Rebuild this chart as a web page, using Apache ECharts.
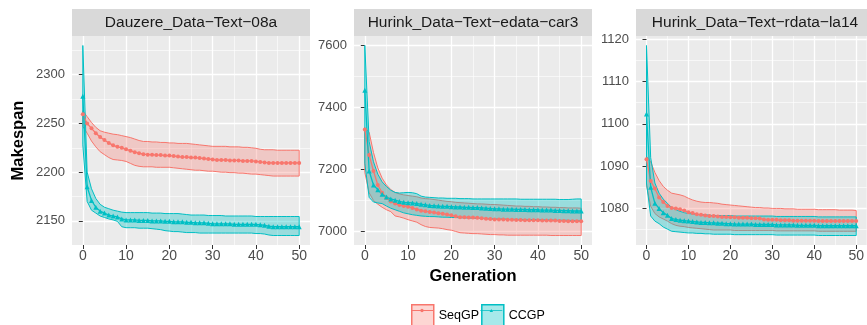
<!DOCTYPE html>
<html>
<head>
<meta charset="utf-8">
<script src="https://cdn.jsdelivr.net/npm/echarts@6/dist/echarts.min.js"></script>
<style>
html,body{margin:0;padding:0;background:#fff;}
#main{width:867px;height:325px;}
</style>
</head>
<body>
<div id="main"></div>
<script>
// ---- data ----
var generations = [0,1,2,3,4,5,6,7,8,9,10,11,12,13,14,15,16,17,18,19,20,21,22,23,24,25,
  26,27,28,29,30,31,32,33,34,35,36,37,38,39,40,41,42,43,44,45,46,47,48,49,50];
var panelNames = ['Dauzere_Data\u2212Text\u221208a', 'Hurink_Data\u2212Text\u2212edata\u2212car3', 'Hurink_Data\u2212Text\u2212rdata\u2212la14'];
var xTicks = [0,10,20,30,40,50];
var p1Ticks = [2150,2200,2250,2300];
var p2Ticks = [7000,7200,7400,7600];
var p3Ticks = [1080,1090,1100,1110,1120];

// Dauzere 08a
var p1SeqMean = [2259.5,2250,2245,2240,2236,2233,2230,2227.5,2226,2225,
  2223.5,2222,2220.5,2219.5,2218.5,2218,2218,2217.5,2217.5,2217,
  2217,2216.5,2216,2215.5,2215.5,2215,2215,2214.5,2214,2213.5,
  2213,2212.5,2212.5,2212.5,2212,2212,2212,2211.5,2211.5,2211.5,
  2211,2210.5,2210,2209.5,2209.5,2209.5,2209.5,2209.5,2209.5,2209.5,2209.5];
var p1SeqHi = [2263,2257,2251,2246,2242.5,2241,2240,2239,2238.5,2237.5,
  2236.5,2235.5,2234,2232.5,2231.5,2231.5,2231,2231,2230.5,2230.5,
  2230,2230,2229.5,2229.5,2229.5,2229,2228.5,2228,2227.5,2227,
  2226.5,2226.5,2226.5,2226.5,2226,2226,2226,2225.5,2225.5,2225,
  2224.5,2223.5,2223,2223,2223,2222.5,2222.5,2222.5,2222.5,2222.5,2222.5];
var p1SeqLo = [2247,2240,2232,2226,2221,2218,2215,2213,2212.5,2212,
  2211,2209,2207,2206,2205.5,2205.5,2205.5,2205,2205,2205,
  2205,2204.5,2204,2203.5,2203,2202.5,2202,2202,2201.5,2201,
  2201,2200.5,2200,2200,2199.5,2199.5,2199,2199,2198.5,2198,
  2198,2197.5,2197,2196.5,2196,2196,2196,2196,2196,2196,2196];
var p1CcMean = [2278,2185,2171,2164,2160,2158,2156,2155,2154,2152,
  2151,2151,2151,2150.5,2150.5,2150.5,2150,2150,2150,2149.5,
  2149.5,2149,2149,2149,2148.5,2148.5,2148,2148,2148,2147.5,
  2147,2147,2147,2147,2147,2146.5,2146.5,2146.5,2146.5,2146.5,
  2146.5,2146,2145.5,2144.5,2144,2144,2144,2144,2144,2144,2144];
var p1CcHi = [2330,2200,2183,2173,2167,2164,2162.5,2161,2160,2159,
  2158.5,2158.5,2158.5,2158.5,2158.5,2158.5,2158,2158,2158,2157.5,
  2157.5,2157.5,2157.5,2157,2156.5,2156,2156,2156,2156,2155.5,
  2155.5,2155.5,2155.5,2155,2155,2155,2155,2155,2155,2155,
  2154.5,2154.5,2154.5,2154.5,2154.5,2154.5,2154.5,2154.5,2154.5,2154.5,2154.5];
var p1CcLo = [2228,2170,2161,2158,2155,2153.5,2152,2151,2149.5,2144,
  2143,2143,2143,2142.5,2142.5,2142.5,2142,2141.5,2141,2140,
  2139.5,2139,2139,2138.5,2138,2138,2138,2137.5,2137.5,2137.5,
  2137.5,2137.5,2137.5,2137.5,2137.5,2137.5,2137.5,2137.5,2137.5,2137.5,
  2137,2137,2136.5,2135.5,2135,2135,2135,2135,2135,2135,2135];

// Hurink edata car3
var p2SeqMean = [7329,7247,7195,7150,7125,7108,7097,7090,7085,7082,
  7080,7076,7071,7067,7065,7063,7061,7059,7057,7055,
  7052,7049,7046,7046,7045,7045,7044,7043,7041,7040,
  7039,7039,7039,7038,7038,7037,7037,7036,7036,7036,
  7036,7035,7035,7035,7035,7034,7034,7033,7033,7033,7033];
var p2SeqHi = [7335,7320,7255,7205,7172,7150,7135,7126,7121,7118,
  7116,7114,7112,7108,7106,7105,7103,7101,7099,7097,
  7096,7094,7093,7092,7091,7090,7089,7089,7088,7087,
  7087,7086,7085,7084,7083,7082,7082,7081,7081,7080,
  7080,7079,7079,7078,7078,7077,7077,7076,7076,7076,7075];
var p2SeqLo = [7190,7125,7100,7088,7078,7070,7064,7050,7047,7043,
  7038,7034,7030,7022,7016,7013,7012,7011,7009,7006,
  7004,7000,6996,6995,6994,6993,6993,6992,6991,6990,
  6990,6989,6989,6988,6988,6988,6988,6988,6988,6988,
  6988,6988,6988,6987,6987,6987,6987,6987,6987,6987,6987];
var p2CcMean = [7456,7195,7150,7135,7120,7111,7105,7101,7097,7094,
  7093,7092,7090,7088,7086,7084,7083,7082,7081,7081,
  7080,7079,7079,7078,7078,7077,7077,7076,7075,7074,
  7073,7073,7072,7072,7072,7071,7071,7071,7070,7070,
  7070,7069,7069,7069,7068,7068,7067,7067,7066,7066,7066];
var p2CcHi = [7600,7290,7225,7185,7160,7145,7133,7126,7124,7125,
  7126,7125,7122,7114,7111,7110,7109,7108,7108,7107,
  7107,7107,7106,7106,7106,7105,7105,7105,7105,7105,
  7105,7105,7105,7105,7105,7105,7104,7104,7104,7104,
  7104,7104,7104,7104,7104,7103,7103,7103,7104,7105,7105];
var p2CcLo = [7220,7110,7095,7092,7090,7082,7075,7070,7065,7060,
  7057,7054,7052,7050,7049,7048,7048,7047,7046,7046,
  7045,7045,7044,7044,7043,7043,7042,7042,7041,7041,
  7040,7040,7040,7039,7039,7039,7039,7038,7038,7038,
  7038,7037,7037,7037,7036,7036,7036,7036,7035,7035,7035];

// Hurink rdata la14
var p3SeqMean = [1091.6,1086.5,1084.7,1082.6,1081.5,1080.6,1080.1,1080,1079.8,1079.5,
  1079.1,1078.9,1078.6,1078.5,1078.3,1078.2,1078.2,1078.1,1078,1078,
  1077.9,1077.9,1077.8,1077.8,1077.8,1077.7,1077.7,1077.6,1077.4,1077.3,
  1077.3,1077.3,1077.2,1077.2,1077.2,1077.1,1077.1,1077.1,1077.1,1077.1,
  1077.1,1077,1077,1077,1077,1077,1077,1077,1077,1077,1077];
var p3SeqHi = [1092.3,1091,1088.5,1086.6,1085.2,1084.3,1083.6,1083.4,1083.2,1082.9,
  1082.4,1082,1081.7,1081.5,1081.4,1081.4,1081.3,1081.2,1081,1080.9,
  1080.8,1080.7,1080.6,1080.5,1080.4,1080.3,1080.2,1080.2,1080.1,1080.1,
  1080,1080,1080,1079.9,1079.9,1079.9,1079.8,1079.8,1079.8,1079.8,
  1079.8,1079.7,1079.7,1079.7,1079.7,1079.7,1079.6,1079.6,1079.6,1079.6,1079.5];
var p3SeqLo = [1085.5,1080.5,1078.8,1078,1077.5,1077,1076.4,1076,1075.8,1075.7,
  1075.5,1075.4,1075.3,1075.2,1075.1,1075,1074.9,1074.9,1074.9,1074.9,
  1074.9,1074.8,1074.8,1074.8,1074.8,1074.8,1074.8,1074.8,1074.8,1074.8,
  1074.8,1074.7,1074.7,1074.7,1074.7,1074.7,1074.7,1074.7,1074.7,1074.7,
  1074.7,1074.6,1074.6,1074.6,1074.6,1074.6,1074.6,1074.6,1074.6,1074.6,1074.6];
var p3CcMean = [1102.3,1085,1081.2,1080,1079,1078.4,1077.6,1077.4,1077.2,1077.1,
  1077,1076.9,1076.8,1076.7,1076.7,1076.6,1076.6,1076.5,1076.5,1076.4,
  1076.4,1076.3,1076.3,1076.3,1076.3,1076.3,1076.2,1076.2,1076.2,1076.2,
  1076.2,1076.1,1076.1,1076.1,1076.1,1076.1,1076,1076,1076,1076,
  1076,1075.9,1075.9,1075.9,1075.9,1075.9,1075.9,1075.9,1075.9,1075.9,1075.9];
var p3CcHi = [1118.5,1092,1086,1083.6,1082.2,1081.2,1080.2,1079.7,1079.3,1079,
  1078.8,1078.7,1078.6,1078.5,1078.5,1078.4,1078.3,1078.3,1078.3,1078.3,
  1078.3,1078.2,1078.2,1078.2,1078.2,1078.2,1078.2,1078.2,1078.2,1078.2,
  1078.2,1078.1,1078.1,1078.1,1078.1,1078.1,1078.1,1078.1,1078.1,1078.1,
  1078.1,1078,1078,1078,1078,1078,1078,1078,1078,1078,1078];
var p3CcLo = [1086,1078.2,1077,1076.4,1075.6,1075.1,1074.6,1074.5,1074.4,1074.3,
  1074.2,1074.2,1074.1,1074.1,1074,1074,1073.9,1073.9,1073.9,1073.9,
  1073.9,1073.8,1073.8,1073.8,1073.8,1073.8,1073.8,1073.8,1073.8,1073.8,
  1073.8,1073.7,1073.7,1073.7,1073.7,1073.7,1073.7,1073.7,1073.7,1073.7,
  1073.7,1073.6,1073.6,1073.6,1073.6,1073.6,1073.6,1073.6,1073.6,1073.6,1073.6];

// ---- layout / style ----
var SEQ = '#F8766D', CC = '#00BFC4';
var SEQ_FILL = 'rgba(248,118,109,0.3)', CC_FILL = 'rgba(0,191,196,0.35)';
var FONT = 'Liberation Sans, Arial, sans-serif';
var gridLeft = [72, 354, 636];
var gridTop = 36, gridW = 238, gridH = 209;

var panels = [
  {ticks: p1Ticks, seq: [p1SeqMean, p1SeqLo, p1SeqHi], cc: [p1CcMean, p1CcLo, p1CcHi]},
  {ticks: p2Ticks, seq: [p2SeqMean, p2SeqLo, p2SeqHi], cc: [p2CcMean, p2CcLo, p2CcHi]},
  {ticks: p3Ticks, seq: [p3SeqMean, p3SeqLo, p3SeqHi], cc: [p3CcMean, p3CcLo, p3CcHi]}
];

// ggplot-like 5% expansion
function expandRange(arrs) {
  var lo = Infinity, hi = -Infinity;
  arrs.forEach(function(a){ a.forEach(function(v){ if(v<lo)lo=v; if(v>hi)hi=v; }); });
  var pad = (hi - lo) * 0.05;
  return [lo - pad, hi + pad];
}
function minorOf(ticks, min, max) {
  var step = ticks[1] - ticks[0], out = [];
  for (var v = ticks[0] - step / 2; v <= max; v += step) if (v >= min) out.push(v);
  return out;
}
function plain(v) { return String(v); }

var xr = expandRange([generations]);
var grids = [], xAxes = [], yAxes = [], series = [], graphics = [];

panels.forEach(function(p, k) {
  grids.push({left: gridLeft[k], top: gridTop, width: gridW, height: gridH,
    show: true, backgroundColor: '#EBEBEB', borderWidth: 0});
  var yr = expandRange(p.seq.concat(p.cc));
  xAxes[k] = {
    type: 'value', gridIndex: k, min: xr[0], max: xr[1],
    axisLine: {show: false},
    axisTick: {show: true, length: 4, customValues: xTicks, lineStyle: {color: '#333', width: 1}},
    axisLabel: {customValues: xTicks, formatter: plain, color: '#4D4D4D', fontSize: 14, fontFamily: FONT, margin: 4},
    splitLine: {show: true, lineStyle: {color: '#fff', width: 1.3}}
  };
  if (k === 1) {
    xAxes[k].name = 'Generation';
    xAxes[k].nameLocation = 'middle';
    xAxes[k].nameGap = 22;
    xAxes[k].nameTextStyle = {fontSize: 16.5, fontWeight: 'bold', color: '#000', fontFamily: FONT};
  }
  xAxes[k + 3] = {
    type: 'value', gridIndex: k, min: xr[0], max: xr[1], position: 'top',
    axisLine: {show: false}, axisLabel: {show: false},
    axisTick: {show: false, customValues: [5,15,25,35,45]},
    splitLine: {show: true, lineStyle: {color: '#fff', width: 0.6}}
  };
  yAxes[k] = {
    type: 'value', gridIndex: k, min: yr[0], max: yr[1],
    axisLine: {show: false},
    axisTick: {show: true, length: 4, customValues: p.ticks, lineStyle: {color: '#333', width: 1}},
    axisLabel: {customValues: p.ticks, formatter: plain, color: '#4D4D4D', fontSize: 13, fontFamily: FONT, margin: 7},
    splitLine: {show: true, lineStyle: {color: '#fff', width: 1.3}}
  };
  if (k === 0) {
    yAxes[k].name = 'Makespan';
    yAxes[k].nameLocation = 'middle';
    yAxes[k].nameGap = 45;
    yAxes[k].nameTextStyle = {fontSize: 16.5, fontWeight: 'bold', color: '#000', fontFamily: FONT};
  }
  yAxes[k + 3] = {
    type: 'value', gridIndex: k, min: yr[0], max: yr[1], position: 'right',
    axisLine: {show: false}, axisLabel: {show: false},
    axisTick: {show: false, customValues: minorOf(p.ticks, yr[0], yr[1])},
    splitLine: {show: true, lineStyle: {color: '#fff', width: 0.6}}
  };

  // facet strip
  graphics.push({type: 'rect', left: gridLeft[k], top: 9, shape: {width: gridW, height: 27},
    style: {fill: '#D9D9D9'}, silent: true});
  graphics.push({type: 'text', x: gridLeft[k] + gridW / 2, y: 22.5,
    style: {text: panelNames[k], fill: '#1A1A1A', font: '15.5px ' + FONT, align: 'center', verticalAlign: 'middle'}, silent: true});
});

function lineSeries(name, k, vals, color, symbol, size) {
  return {
    name: name, type: 'line', xAxisIndex: k, yAxisIndex: k, z: 4,
    data: generations.map(function(g, i){ return [g, vals[i]]; }),
    symbol: symbol, symbolSize: size, showSymbol: true,
    lineStyle: {color: color, width: 1.3}, itemStyle: {color: color},
    animation: false, silent: true
  };
}
function ribbonSeries(name, k, lo, hi, color, fill) {
  return {
    name: name, type: 'custom', xAxisIndex: k, yAxisIndex: k, z: 2,
    data: generations.map(function(g, i){ return [g, lo[i], hi[i]]; }),
    encode: {x: 0, y: [1, 2]},
    renderItem: function(params, api) {
      if (params.dataIndex !== 0) return null;
      var pts = [], i;
      for (i = 0; i < generations.length; i++) pts.push(api.coord([generations[i], hi[i]]));
      for (i = generations.length - 1; i >= 0; i--) pts.push(api.coord([generations[i], lo[i]]));
      return {type: 'polygon', shape: {points: pts}, style: {fill: fill, stroke: color, lineWidth: 1}};
    },
    animation: false, silent: true
  };
}

panels.forEach(function(p, k) {
  series.push(ribbonSeries('SeqGP', k, p.seq[1], p.seq[2], SEQ, SEQ_FILL));
  series.push(ribbonSeries('CCGP', k, p.cc[1], p.cc[2], CC, CC_FILL));
});
panels.forEach(function(p, k) {
  series.push(lineSeries('SeqGP', k, p.seq[0], SEQ, 'circle', 4));
  series.push(lineSeries('CCGP', k, p.cc[0], CC, 'triangle', 5));
});

// legend key: line with a point in the middle
var keyLineCircle = 'path://M0,4.6 L20,4.6 L20,5.4 L0,5.4 Z M8.5,5 A1.5,1.5 0 1 1 11.5,5 A1.5,1.5 0 1 1 8.5,5 Z';
var keyLineTri = 'path://M0,4.6 L20,4.6 L20,5.4 L0,5.4 Z M8.4,6.3 L10,3.5 L11.6,6.3 Z';

var chart = echarts.init(document.getElementById('main'), null, {renderer: 'canvas'});
chart.setOption({
  backgroundColor: '#fff',
  animation: false,
  grid: grids,
  xAxis: xAxes,
  yAxis: yAxes,
  series: series,
  graphic: graphics,
  legend: [
    {left: 411, top: 304, padding: 0, itemWidth: 22, itemHeight: 22, itemGap: 2, selectedMode: false,
      textStyle: {fontSize: 12.5, color: '#000', fontFamily: FONT},
      data: [
        {name: 'SeqGP', icon: 'rect', itemStyle: {color: SEQ_FILL, borderColor: SEQ, borderWidth: 1.5}},
        {name: 'CCGP', icon: 'rect', itemStyle: {color: CC_FILL, borderColor: CC, borderWidth: 1.5}}
      ]},
    {left: 411, top: 304, padding: 0, itemWidth: 22, itemHeight: 22, itemGap: 2, selectedMode: false,
      textStyle: {fontSize: 12.5, color: 'rgba(0,0,0,0)', fontFamily: FONT},
      data: [
        {name: 'SeqGP', icon: keyLineCircle, itemStyle: {color: SEQ, borderWidth: 0}},
        {name: 'CCGP', icon: keyLineTri, itemStyle: {color: CC, borderWidth: 0}}
      ]}
  ]
});
</script>
</body>
</html>
